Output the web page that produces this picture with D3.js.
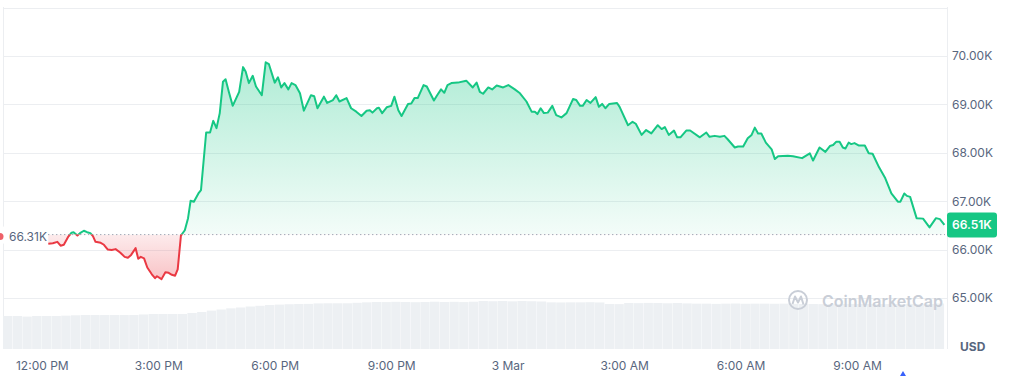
<!DOCTYPE html>
<html>
<head>
<meta charset="utf-8">
<script src="https://cdn.jsdelivr.net/npm/d3@7"></script>
<style>
  body { margin: 0; background: #fff; }
  svg { display: block; font-family: Inter, "Noto Sans", sans-serif; }
</style>
</head>
<body>
<div id="chart"></div>
<script>
var width = 1013;
var height = 376;
var green = '#16c784';
var red = '#ea3943';
var textColor = '#58667e';
var gridColor = '#eceef1';

// price points: [minutes after 12:00 PM on 2 Mar, price in USD]
var pricePoints = [
  [10,66120],[17,66130],[24,66160],[29,66080],[34,66100],[41,66270],[46,66350],[49,66360],[55,66290],[59,66340],
  [65,66390],[70,66360],[75,66340],[79,66280],[83,66160],[91,66140],[96,66100],[102,66000],[108,65990],[114,66010],
  [121,65940],[128,65850],[133,65830],[138,65890],[145,66030],[149,65810],[153,65850],[158,65820],[163,65630],[170,65490],
  [175,65410],[178,65450],[185,65390],[191,65530],[196,65520],[201,65480],[206,65460],[210,65590],[215,66290],
  [221,66400],[226,66650],[230,67010],[235,66990],[242,67160],[246,67230],[254,68420],[260,68420],[265,68660],[270,68510],
  [275,68820],[280,69470],[284,69520],[289,69260],[295,68970],[305,69260],[311,69770],[315,69680],[320,69440],[326,69590],
  [331,69370],[340,69190],[346,69870],[351,69830],[360,69450],[365,69560],[370,69350],[375,69440],[381,69310],[386,69440],
  [392,69400],[399,69230],[405,68870],[416,69190],[421,69170],[426,68920],[436,69160],[441,69030],[450,69090],[455,69190],
  [460,69060],[471,69130],[478,68920],[486,68850],[494,68760],[502,68870],[507,68880],[511,68830],[518,68920],[521,68930],
  [526,68820],[533,68940],[540,68970],[545,69160],[551,68880],[556,68760],[566,69010],[571,69020],[576,69130],[581,69130],
  [590,69400],[595,69370],[606,69080],[611,69190],[617,69310],[622,69240],[627,69400],[633,69440],[643,69450],[656,69490],
  [666,69350],[672,69450],[677,69260],[682,69220],[690,69350],[696,69310],[703,69390],[713,69350],[721,69400],[731,69310],
  [739,69230],[749,69060],[757,68850],[762,68850],[766,68800],[771,68920],[776,68820],[782,68830],[789,68970],[795,68780],
  [803,68730],[811,68820],[821,69110],[826,69090],[832,68970],[836,68970],[842,69090],[848,69030],[856,69150],[861,68950],
  [866,69010],[871,68920],[877,69010],[889,69030],[893,68950],[906,68570],[913,68640],[918,68600],[927,68370],[934,68470],
  [942,68400],[952,68570],[958,68490],[963,68530],[969,68370],[977,68460],[982,68320],[987,68320],[996,68460],[1002,68460],
  [1017,68320],[1027,68420],[1032,68330],[1040,68350],[1048,68330],[1055,68350],[1060,68280],[1071,68110],[1076,68130],[1084,68130],
  [1091,68300],[1097,68370],[1102,68520],[1107,68400],[1112,68400],[1119,68210],[1128,68070],[1133,67870],[1138,67930],[1153,67940],
  [1161,67930],[1175,67890],[1187,67990],[1192,67840],[1202,68110],[1211,68020],[1218,68140],[1223,68160],[1228,68230],[1233,68230],
  [1238,68110],[1242,68090],[1247,68210],[1251,68180],[1256,68200],[1263,68150],[1272,68150],[1278,67990],[1284,67980],[1294,67700],
  [1303,67490],[1313,67160],[1323,66990],[1327,66990],[1333,67160],[1337,67110],[1342,67090],[1352,66650],[1362,66640],[1372,66460],
  [1382,66650],[1388,66630],[1395,66510]
];

// volume in billions USD, one bar per 15 minutes starting 11:00 AM
var volumes = [
  27.5,27.5,27.0,27.5,27.5,27.5,27.8,28.1,28.3,28.3,28.3,28.3,28.3,28.3,28.8,29.2,29.2,29.2,29.2,30.0,
  30.8,32.0,32.9,33.9,34.6,35.4,36.0,36.7,37.0,37.3,37.5,37.6,38.0,38.1,38.1,38.1,38.5,38.9,39.2,39.1,
  39.3,39.2,39.0,39.2,39.4,39.2,39.3,39.1,39.4,40.0,39.8,40.0,39.7,40.0,39.8,39.6,38.9,38.8,38.9,38.9,
  39.0,38.8,37.5,37.4,38.3,38.2,38.4,38.3,38.1,38.3,38.0,37.8,37.8,37.6,37.8,37.9,37.7,37.8,37.8,37.7,
  37.8,37.6,37.5,37.5,37.4,37.5,37.5,37.6,37.5,37.5,37.4,37.5,37.5,37.6,37.5,37.5,37.9
];

var openPrice = 66310;
var lastPrice = 66510;
var priceTicks = [65000, 66000, 67000, 68000, 69000, 70000, 71000];
var timeTickHours = [0, 3, 6, 9, 12, 15, 18, 21];
var timeTickLabels = ['12:00 PM', '3:00 PM', '6:00 PM', '9:00 PM', '3 Mar', '3:00 AM', '6:00 AM', '9:00 AM'];

var noon = new Date(2024, 2, 2, 12, 0);
var data = pricePoints.map(function(d){ return {t: d3.timeMinute.offset(noon, d[0]), p: d[1]} });

var x = d3.scaleTime()
  .domain([new Date(2024, 2, 2, 11, 0), new Date(2024, 2, 3, 11, 19)])
  .range([3, 947]);
var y = d3.scaleLinear().domain([65000, 70000]).range([298, 56]);
var vy = d3.scaleLinear().domain([0, 50]).range([349, 289]);

var svg = d3.select('#chart').append('svg')
  .attr('width', width)
  .attr('height', height);

var defs = svg.append('defs');
var baseY = y(openPrice);

var gGreen = defs.append('linearGradient').attr('id', 'gradGreen')
  .attr('gradientUnits', 'userSpaceOnUse')
  .attr('x1', 0).attr('x2', 0).attr('y1', y(d3.max(data, function(d){ return d.p }))).attr('y2', baseY);
gGreen.append('stop').attr('offset', 0).attr('stop-color', green).attr('stop-opacity', 0.34);
gGreen.append('stop').attr('offset', 1).attr('stop-color', green).attr('stop-opacity', 0.05);

var gRed = defs.append('linearGradient').attr('id', 'gradRed')
  .attr('gradientUnits', 'userSpaceOnUse')
  .attr('x1', 0).attr('x2', 0).attr('y1', baseY).attr('y2', y(d3.min(data, function(d){ return d.p })));
gRed.append('stop').attr('offset', 0).attr('stop-color', red).attr('stop-opacity', 0.1);
gRed.append('stop').attr('offset', 1).attr('stop-color', red).attr('stop-opacity', 0.3);

defs.append('clipPath').attr('id', 'clipUp').append('rect')
  .attr('x', 0).attr('y', 0).attr('width', width).attr('height', baseY);
defs.append('clipPath').attr('id', 'clipDown').append('rect')
  .attr('x', 0).attr('y', baseY).attr('width', width).attr('height', height - baseY);

// grid
svg.append('g').selectAll('line').data(priceTicks).enter().append('line')
  .attr('x1', 3).attr('x2', 947)
  .attr('y1', function(d){ return Math.round(y(d)) + 0.5 })
  .attr('y2', function(d){ return Math.round(y(d)) + 0.5 })
  .attr('stroke', gridColor);
svg.append('line').attr('x1', 3.5).attr('x2', 3.5).attr('y1', 7).attr('y2', 349).attr('stroke', gridColor);
svg.append('line').attr('x1', 947.5).attr('x2', 947.5).attr('y1', 7).attr('y2', 349).attr('stroke', gridColor);

// volume bars
var barStart = new Date(2024, 2, 2, 11, 0);
svg.append('g').selectAll('rect').data(volumes).enter().append('rect')
  .attr('x', function(d, i){ return x(d3.timeMinute.offset(barStart, i * 15)) })
  .attr('width', function(d, i){ return x(d3.timeMinute.offset(barStart, 15)) - x(barStart) - 0.35 })
  .attr('y', function(d){ return vy(d) })
  .attr('height', function(d){ return vy(0) - vy(d) })
  .attr('fill', '#edf0f3');

// watermark
var wm = svg.append('g').attr('fill', 'none').attr('stroke', '#c9ced7');
wm.append('circle').attr('cx', 798).attr('cy', 300).attr('r', 9).attr('stroke-width', 2);
wm.append('path').attr('d', 'M792.5,304 L795,296.5 L798,302.5 L801,296.5 L803.5,304.5').attr('stroke-width', 2).attr('stroke-linejoin', 'round');
svg.append('text').attr('x', 822).attr('y', 301).attr('dy', '0.35em')
  .attr('fill', '#c9ced7').attr('font-size', 16).attr('font-weight', 600)
  .text('CoinMarketCap');

// areas and lines
var area = d3.area().x(function(d){ return x(d.t) }).y0(baseY).y1(function(d){ return y(d.p) });
var line = d3.line().x(function(d){ return x(d.t) }).y(function(d){ return y(d.p) });

svg.append('path').datum(data).attr('d', area).attr('fill', 'url(#gradGreen)').attr('clip-path', 'url(#clipUp)');
svg.append('path').datum(data).attr('d', area).attr('fill', 'url(#gradRed)').attr('clip-path', 'url(#clipDown)');

svg.append('line')
  .attr('x1', x(data[0].t)).attr('x2', 945)
  .attr('y1', baseY).attr('y2', baseY)
  .attr('stroke', '#7d879a').attr('stroke-dasharray', '1,3');

svg.append('path').datum(data).attr('d', line).attr('fill', 'none')
  .attr('stroke', green).attr('stroke-width', 2).attr('stroke-linejoin', 'round').attr('clip-path', 'url(#clipUp)');
svg.append('path').datum(data).attr('d', line).attr('fill', 'none')
  .attr('stroke', red).attr('stroke-width', 2).attr('stroke-linejoin', 'round').attr('clip-path', 'url(#clipDown)');

// open price label
svg.append('rect').attr('x', 0).attr('y', baseY - 8).attr('width', 47).attr('height', 17).attr('fill', '#fff');
svg.append('circle').attr('cx', 0).attr('cy', baseY + 2).attr('r', 3.5).attr('fill', red).attr('fill-opacity', 0.8);
svg.append('text').attr('x', 9).attr('y', baseY + 2).attr('dy', '0.35em')
  .attr('fill', textColor).attr('font-size', 12).text('66.31K');

// y axis
var yAxis = d3.axisRight(y)
  .tickValues(priceTicks.slice(0, 6))
  .tickFormat(function(d){ return (d / 1000).toFixed(2) + 'K' })
  .tickSize(0).tickPadding(5);
var ya = svg.append('g').attr('transform', 'translate(947,0)').call(yAxis);
ya.select('.domain').remove();
ya.selectAll('text').attr('fill', textColor).attr('font-size', 12).attr('font-family', 'Inter, sans-serif');

// x axis
var xAxis = d3.axisBottom(x)
  .tickValues(timeTickHours.map(function(h){ return d3.timeHour.offset(noon, h) }))
  .tickFormat(function(d, i){ return timeTickLabels[i] })
  .tickSize(0).tickPadding(12);
var xa = svg.append('g').attr('transform', 'translate(0,349)').call(xAxis);
xa.select('.domain').remove();
xa.selectAll('text').attr('fill', textColor).attr('font-size', 12).attr('font-family', 'Inter, sans-serif');

svg.append('text').attr('x', 960).attr('y', 350.5)
  .attr('fill', textColor).attr('font-size', 12).attr('font-weight', 700).text('USD');

// last price tag
svg.append('rect').attr('x', 947).attr('y', y(lastPrice) - 12.5).attr('width', 50).attr('height', 25)
  .attr('rx', 3).attr('fill', green);
svg.append('text').attr('x', 952).attr('y', y(lastPrice)).attr('dy', '0.35em')
  .attr('fill', '#fff').attr('font-size', 12).attr('font-weight', 600)
  .text((lastPrice / 1000).toFixed(2) + 'K');

// small event marker at the bottom edge
svg.append('path').attr('d', 'M900,376 L903,371 L906,376 Z').attr('fill', '#3861fb');
</script>
</body>
</html>
